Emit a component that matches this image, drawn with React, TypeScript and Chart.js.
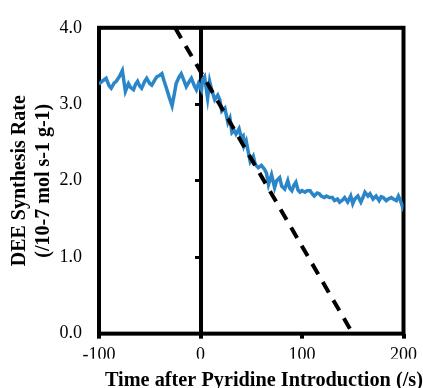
import { useEffect, useRef } from "react";
import { Chart, registerables } from "chart.js";

Chart.register(...registerables);

// Measured DEE synthesis rate (10^-7 mol s-1 g-1) vs time after pyridine introduction (s)
const timeSeconds = [
  -100, -97, -93, -90, -88, -85, -83, -80, -77, -74, -71, -69, -66, -64, -62, -60, -58, -55, -53,
  -50, -48, -45, -43, -40, -38, -36, -34, -31, -28, -26, -24, -21, -19, -16, -14, -11, -9, -6, -4,
  -2, 1, 2, 4, 7, 9, 11, 14, 17, 19, 21, 24, 27, 29, 31, 33, 35, 38, 40, 42, 43, 45, 47, 49, 52,
  54, 57, 60, 63, 65, 67, 70, 73, 75, 78, 80, 83, 86, 88, 90, 92, 94, 96, 98, 100, 103, 105, 108,
  110, 112, 115, 117, 119, 122, 124, 127, 130, 132, 135, 137, 140, 142, 145, 148, 150, 152, 155,
  158, 160, 162, 165, 167, 170, 173, 176, 178, 180, 183, 185, 188, 190, 193, 195, 197, 199, 200,
];
const synthesisRate = [
  3.26, 3.3, 3.34, 3.24, 3.21, 3.28, 3.3, 3.36, 3.44, 3.17, 3.27, 3.22, 3.19, 3.26, 3.3, 3.24, 3.21,
  3.3, 3.34, 3.27, 3.25, 3.32, 3.36, 3.38, 3.4, 3.31, 3.23, 3.1, 2.98, 3.12, 3.27, 3.36, 3.4, 3.3,
  3.23, 3.3, 3.34, 3.24, 3.19, 3.27, 3.19, 3.32, 3.36, 3.08, 3.3, 3.19, 3.06, 3.12, 3.06, 2.91,
  2.95, 2.76, 2.82, 2.63, 2.66, 2.61, 2.68, 2.57, 2.59, 2.46, 2.52, 2.38, 2.25, 2.32, 2.21, 2.17,
  2.2, 2.15, 2.1, 1.95, 2.08, 1.91, 2.0, 2.04, 1.93, 1.89, 2.0, 1.9, 1.87, 1.94, 1.98, 1.88, 1.85,
  1.87, 1.85, 1.87, 1.87, 1.83, 1.8, 1.84, 1.83, 1.8, 1.78, 1.8, 1.78, 1.78, 1.74, 1.76, 1.72,
  1.75, 1.78, 1.72, 1.8, 1.7, 1.76, 1.8, 1.72, 1.78, 1.85, 1.8, 1.83, 1.76, 1.8, 1.74, 1.79, 1.78,
  1.74, 1.76, 1.78, 1.76, 1.74, 1.8, 1.74, 1.66, 1.7,
];

// Linear fit of the initial decline (dashed)
const fitTime = [-25, 150];
const fitRate = [4.0, 0.0];

const xTickValues = [-100, 0, 100, 200];
const yTickValues = [0, 1, 2, 3, 4];

const xTitle = "Time after Pyridine Introduction (/s)";
const yTitle = ["DEE Synthesis Rate", "(/10-7 mol s-1 g-1)"];

const FONT = "'Liberation Serif', 'Times New Roman', serif";

const plotBoxPlugin = {
  id: "plotBox",
  beforeDatasetsDraw(chart: any) {
    const { ctx, chartArea: a } = chart;
    ctx.save();
    ctx.strokeStyle = "#000";
    ctx.lineWidth = 4;
    ctx.strokeRect(a.left, a.top, a.right - a.left, a.bottom - a.top);
    ctx.restore();
  },
};

export default function App() {
  const canvasRef = useRef<HTMLCanvasElement | null>(null);

  useEffect(() => {
    if (!canvasRef.current) return;
    const chart = new Chart(canvasRef.current, {
      type: "scatter",
      data: {
        datasets: [
          {
            label: "Fit",
            data: fitTime.map((t, i) => ({ x: t, y: fitRate[i] })),
            showLine: true,
            borderColor: "#000",
            borderWidth: 4,
            borderDash: [12, 9],
            pointRadius: 0,
          },
          {
            label: "Rate",
            data: timeSeconds.map((t, i) => ({ x: t, y: synthesisRate[i] })),
            showLine: true,
            borderColor: "#2A86C8",
            borderWidth: 3.5,
            pointRadius: 0,
            tension: 0,
          },
        ],
      },
      options: {
        animation: false,
        responsive: false,
        events: [],
        layout: { padding: { left: 0, right: 0, top: 20, bottom: 0 } },
        plugins: {
          legend: { display: false },
          tooltip: { enabled: false },
          title: {
            display: true,
            position: "bottom",
            align: "end",
            text: xTitle,
            color: "#000",
            padding: { top: 10, bottom: 7 },
            font: { family: FONT, size: 20.3, weight: "bold", lineHeight: 1.2 },
          },
        },
        scales: {
          x: {
            type: "linear",
            min: -100,
            max: 200,
            afterBuildTicks: (s: any) => {
              s.ticks = xTickValues.map((v) => ({ value: v }));
            },
            afterFit: (s: any) => {
              s.height = 25;
            },
            grid: {
              display: true,
              drawOnChartArea: false,
              drawTicks: true,
              tickLength: 5,
              lineWidth: 4,
              color: "#000",
            },
            border: { display: false },
            ticks: {
              color: "#000",
              padding: 6,
              maxRotation: 0,
              autoSkip: false,
              font: { family: FONT, size: 18 },
              callback: (v: any) => String(v),
            },
            title: { display: false },
          },
          y: {
            type: "linear",
            min: 0,
            max: 4,
            afterBuildTicks: (s: any) => {
              s.ticks = yTickValues.map((v) => ({ value: v }));
            },
            afterFit: (s: any) => {
              s.width = 99;
            },
            grid: { display: false, drawTicks: false },
            border: { display: false },
            ticks: {
              color: "#000",
              padding: 17,
              font: { family: FONT, size: 18 },
              callback: (v: any) => Number(v).toFixed(1),
            },
            title: {
              display: true,
              text: yTitle,
              color: "#000",
              padding: { top: 8, bottom: 0 },
              font: { family: FONT, size: 20, weight: "bold" },
            },
          },
          yRight: {
            axis: "y",
            type: "linear",
            position: "right",
            min: 0,
            max: 4,
            afterFit: (s: any) => {
              s.width = 19;
            },
            grid: { display: false, drawTicks: false },
            border: { display: false },
            ticks: { display: false },
            title: { display: false },
          },
          y0: {
            axis: "y",
            type: "linear",
            position: { x: 0 },
            min: 0,
            max: 4,
            afterBuildTicks: (s: any) => {
              s.ticks = yTickValues.map((v) => ({ value: v }));
            },
            grid: {
              display: true,
              drawOnChartArea: false,
              drawTicks: true,
              tickLength: 4,
              lineWidth: 3,
              color: "#000",
            },
            border: { display: true, width: 4, color: "#000" },
            ticks: { display: false },
            title: { display: false },
          },
        },
      } as any,
      plugins: [plotBoxPlugin],
    });
    return () => chart.destroy();
  }, []);

  return (
    <div
      style={{
        position: "fixed",
        left: 0,
        top: 0,
        width: 423,
        height: 388,
        overflow: "hidden",
        background: "#fff",
      }}
    >
      <canvas ref={canvasRef} width={423} height={400} style={{ display: "block" }} />
    </div>
  );
}
